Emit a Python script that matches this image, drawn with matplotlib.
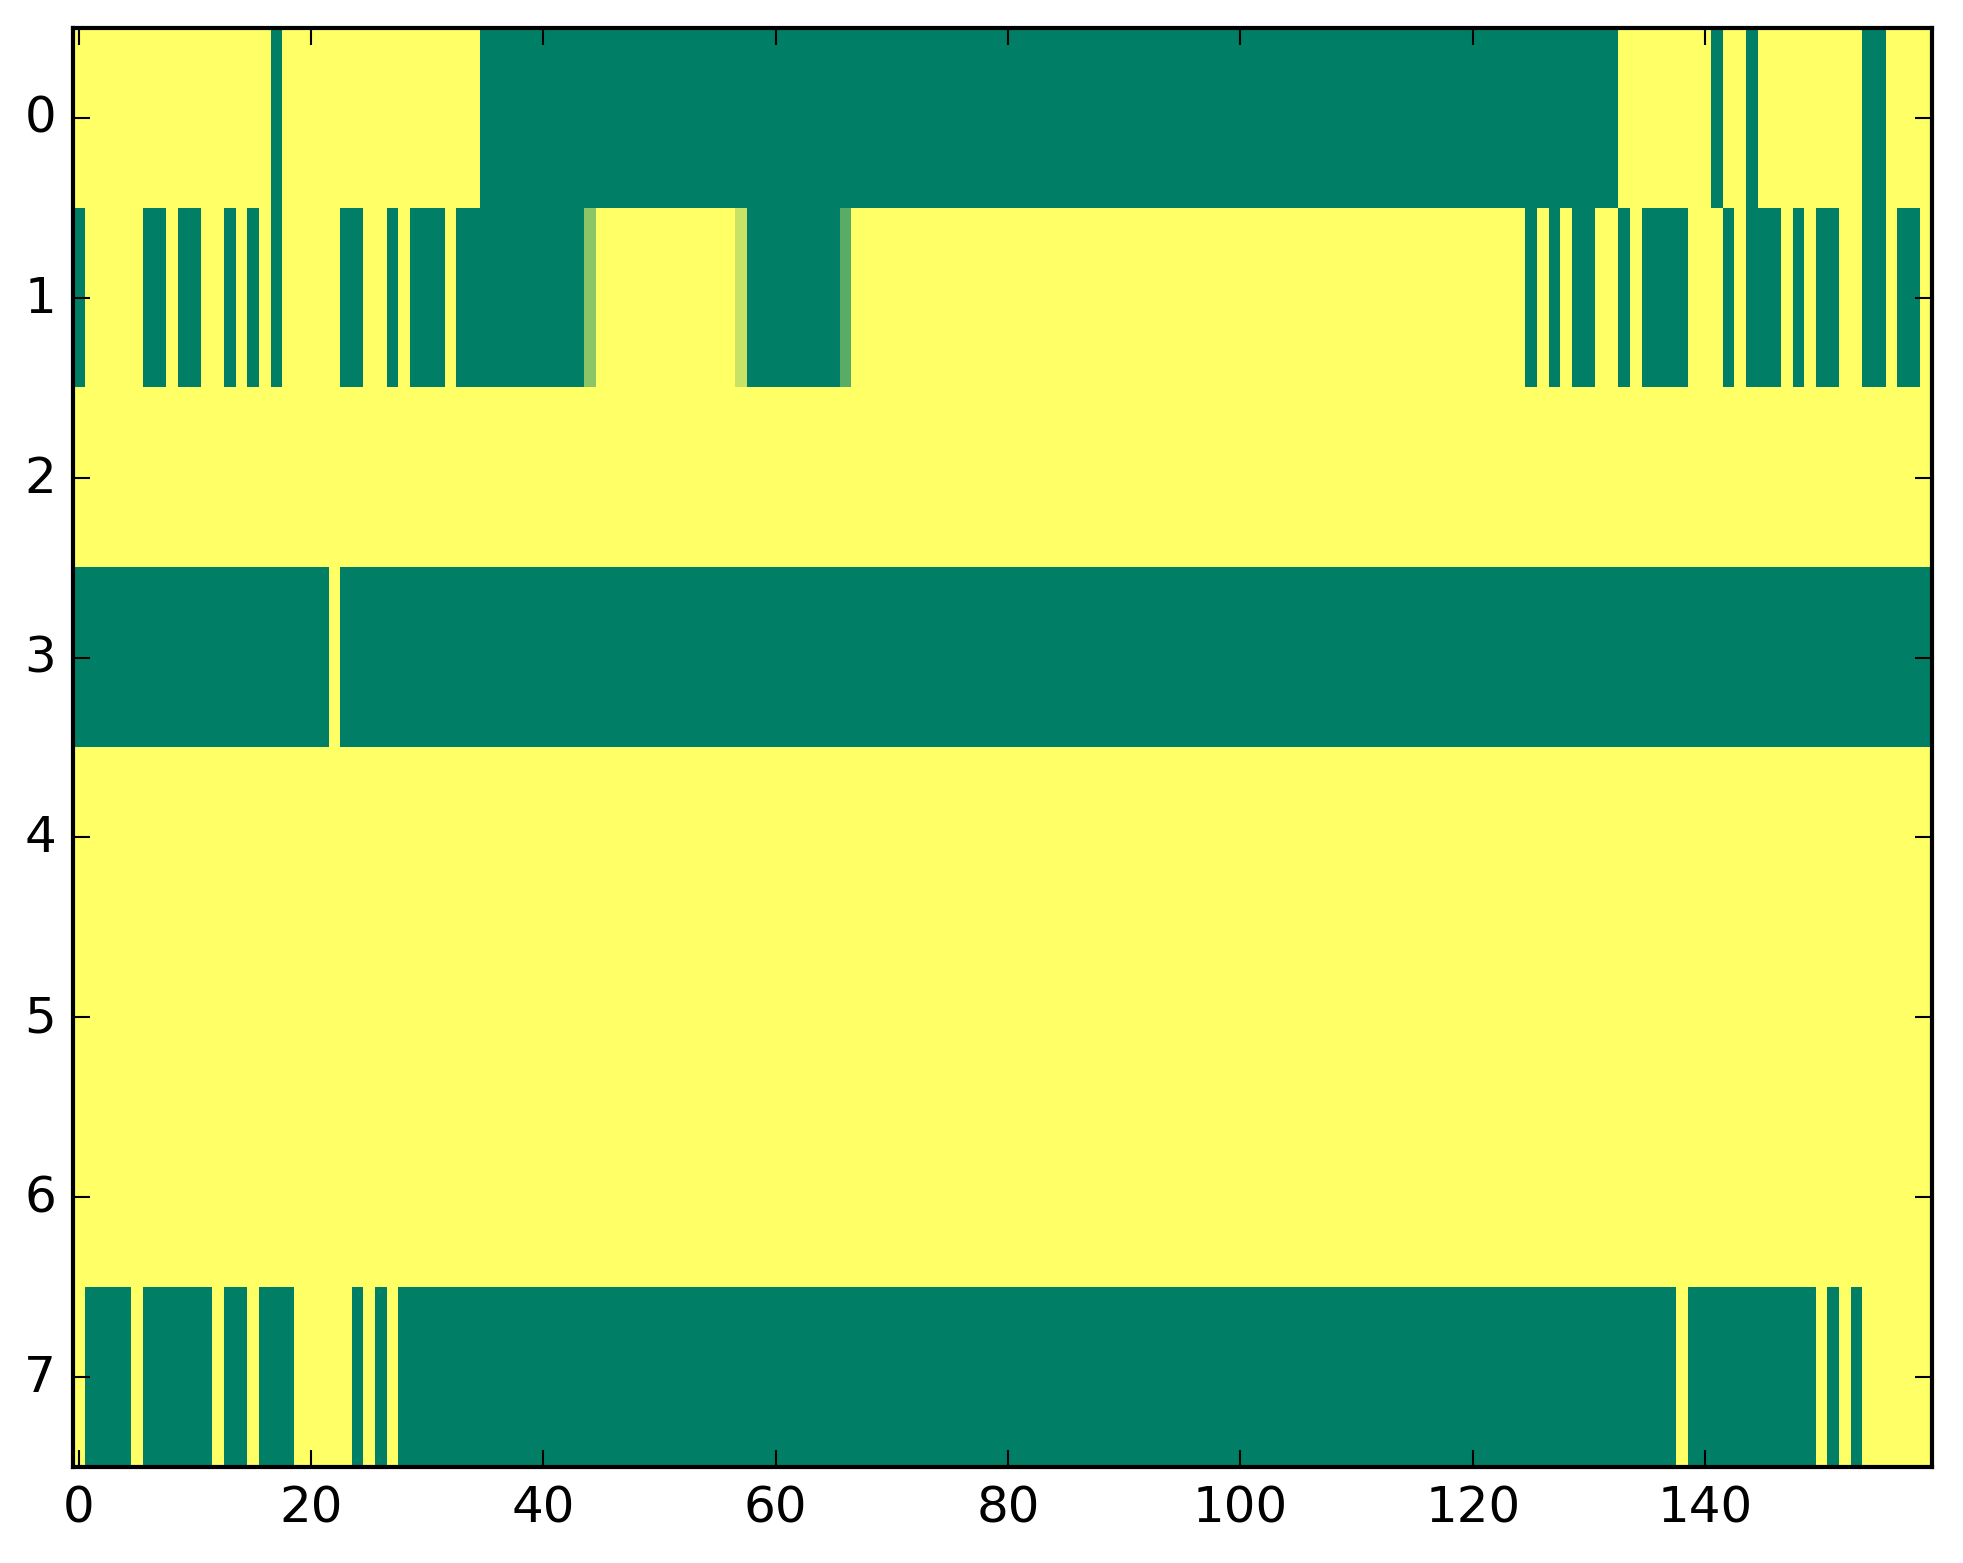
import numpy as np
import matplotlib
matplotlib.use('Agg')
import matplotlib.pyplot as plt

# each row as (value, run length) read off left to right, 160 columns
# 0 = green end of 'summer', 1 = yellow end
row0 = [(1, 17), (0, 1), (1, 17), (0, 98), (1, 8), (0, 1), (1, 2), (0, 1), (1, 9), (0, 2), (1, 4)]
row1 = [(0, 1), (1, 5), (0, 2), (1, 1), (0, 2), (1, 2), (0, 1), (1, 1), (0, 1), (1, 1), (0, 1),
        (1, 5), (0, 2), (1, 2), (0, 1), (1, 1), (0, 3), (1, 1), (0, 11), (0.55, 1), (1, 12),
        (0.78, 1), (0, 8), (0.35, 1), (1, 58), (0, 1), (1, 1), (0, 1), (1, 1), (0, 2), (1, 2),
        (0, 1), (1, 1), (0, 4), (1, 3), (0, 1), (1, 1), (0, 3), (1, 1), (0, 1), (1, 1), (0, 2),
        (1, 2), (0, 2), (1, 1), (0, 2), (1, 1)]
row2 = [(1, 160)]
row3 = [(0, 22), (1, 1), (0, 137)]
row4 = [(1, 160)]
row5 = [(1, 160)]
row6 = [(1, 160)]
row7 = [(1, 1), (0, 4), (1, 1), (0, 6), (1, 1), (0, 2), (1, 1), (0, 3), (1, 5), (0, 1), (1, 1),
        (0, 1), (1, 1), (0, 110), (1, 1), (0, 11), (1, 1), (0, 1), (1, 1), (0, 1), (1, 6)]

rows = [row0, row1, row2, row3, row4, row5, row6, row7]
ytick_pos = [0, 1, 2, 3, 4, 5, 6, 7]
xtick_pos = [0, 20, 40, 60, 80, 100, 120, 140]


def expand(runs):
    out = []
    for v, n in runs:
        out += [v] * n
    return out


grid = np.array([expand(r) for r in rows], dtype=float)

plt.style.use('classic')
W, H, dpi = 1963, 1564, 300
fig = plt.figure(figsize=(W / dpi, H / dpi), dpi=dpi)
ax = fig.add_axes([72.7 / W, (H - 1468) / H, 1859 / W, 1439 / H])
ax.imshow(grid, cmap='summer', vmin=0, vmax=1, aspect='auto', interpolation='nearest')
ax.set_xticks(xtick_pos)
ax.set_yticks(ytick_pos)
ax.set_xlim(-0.5, grid.shape[1] - 0.5)
ax.set_ylim(grid.shape[0] - 0.5, -0.5)

fig.savefig('out.png', dpi=dpi)
